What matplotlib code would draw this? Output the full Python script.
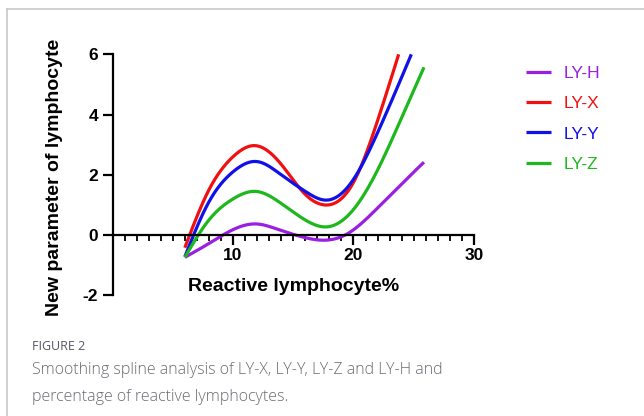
import numpy as np
import matplotlib
matplotlib.use("Agg")
import matplotlib.pyplot as plt
from matplotlib.lines import Line2D

# knots (x = reactive lymphocyte %, y = new parameter)
series_names = ["LY-H", "LY-X", "LY-Y", "LY-Z"]
series_colors = ["#9a1fe0", "#f01010", "#1010e8", "#1cb81c"]

h_x = [6, 8, 10, 11.9, 14, 15.2, 17.6, 19.3, 22, 24, 25.85]
h_y = [-0.74, -0.28, 0.18, 0.37, 0.15, 0.0, -0.17, 0.0, 0.9, 1.7, 2.42]

x_x = [6, 8, 10, 11.8, 14, 16, 17.6, 20, 22, 23.75]
x_y = [-0.42, 1.5, 2.6, 2.97, 2.35, 1.35, 1.0, 1.75, 3.8, 6.0]

y_x = [6, 8, 10, 12, 14, 16, 17.7, 20, 22, 24.8]
y_y = [-0.72, 1.1, 2.1, 2.44, 2.0, 1.45, 1.16, 1.85, 3.4, 6.0]

z_x = [6, 8, 10, 11.9, 14, 16, 17.7, 20, 22, 24, 25.85]
z_y = [-0.74, 0.5, 1.2, 1.45, 1.05, 0.5, 0.27, 0.85, 2.16, 3.9, 5.57]

knots_x = [h_x, x_x, y_x, z_x]
knots_y = [h_y, x_y, y_y, z_y]

caption_head = "FIGURE 2"
caption_body = ("Smoothing spline analysis of LY-X, LY-Y, LY-Z and LY-H and\n"
                "percentage of reactive lymphocytes.")


def natural_spline(xk, yk, xs):
    xk = np.asarray(xk, float)
    yk = np.asarray(yk, float)
    n = len(xk)
    h = np.diff(xk)
    A = np.zeros((n, n))
    b = np.zeros(n)
    A[0, 0] = A[-1, -1] = 1
    for i in range(1, n - 1):
        A[i, i - 1] = h[i - 1]
        A[i, i] = 2 * (h[i - 1] + h[i])
        A[i, i + 1] = h[i]
        b[i] = 3 * ((yk[i + 1] - yk[i]) / h[i] - (yk[i] - yk[i - 1]) / h[i - 1])
    c = np.linalg.solve(A, b)
    bb = np.diff(yk) / h - h * (2 * c[:-1] + c[1:]) / 3
    d = np.diff(c) / (3 * h)
    idx = np.clip(np.searchsorted(xk, xs) - 1, 0, n - 2)
    t = xs - xk[idx]
    return yk[idx] + bb[idx] * t + c[idx] * t ** 2 + d[idx] * t ** 3


plt.rcParams['font.family'] = ['Liberation Sans', 'DejaVu Sans']
plt.rcParams['axes.unicode_minus'] = False

fig = plt.figure(figsize=(6.44, 4.16), dpi=100)
ax = fig.add_axes([0.1747, 0.2901, 0.5613, 0.5793])

for xs, ys, name, col in zip(knots_x, knots_y, series_names, series_colors):
    xx = np.linspace(xs[0], xs[-1], 300)
    ax.plot(xx, natural_spline(xs, ys, xx), color=col, lw=2.3, label=name,
            solid_capstyle='butt', clip_on=False)

ax.set_xlim(0, 30)
ax.set_ylim(-2, 6)
ax.spines['top'].set_visible(False)
ax.spines['right'].set_visible(False)
ax.spines['bottom'].set_position(('data', 0))
ax.spines['left'].set_linewidth(1.6)
ax.spines['bottom'].set_linewidth(1.6)
ax.set_xticks([10, 20, 30])
ax.set_xticks(np.arange(0, 31, 1), minor=True)
ax.set_yticks([-2, 0, 2, 4, 6])
ax.tick_params(axis='both', which='major', width=1.6, length=7, labelsize=12.5)
ax.tick_params(axis='x', which='major', pad=2)
ax.tick_params(axis='x', which='minor', width=1.3, length=4)
ax.tick_params(axis='y', which='minor', left=False)
for lab in ax.get_xticklabels() + ax.get_yticklabels():
    lab.set_fontweight('bold')

ax.set_xlabel("Reactive lymphocyte%", fontsize=14, fontweight='bold')
ax.xaxis.set_label_coords(0.5, 0.036)
ax.xaxis.label.set_va('center')
ax.set_ylabel("New parameter of lymphocyte", fontsize=14, fontweight='bold')
ax.yaxis.set_label_coords(-0.16, 0.49)
ax.yaxis.label.set_va('center')

leg = ax.legend(loc='upper left', bbox_to_anchor=(1.1, 1.017), frameon=False,
                prop={'family': 'Liberation Sans', 'size': 12.5},
                handlelength=1.45, handletextpad=0.75, labelspacing=0.87)
for txt, col in zip(leg.get_texts(), series_colors):
    txt.set_color(col)
for hl in leg.get_lines():
    hl.set_linewidth(2.3)

# page frame and caption
fig.add_artist(Line2D([7 / 644, 7 / 644], [0, 1 - 9 / 416], color='#c8c8cc', lw=1.2))
fig.add_artist(Line2D([7 / 644, 1], [1 - 9 / 416, 1 - 9 / 416], color='#c8c8cc', lw=1.2))
fig.text(32 / 644, 1 - 347 / 416, caption_head, fontsize=9, color='#555564',
         family='Open Sans', fontweight='medium', va='center')
fig.text(32 / 644, 1 - 383.5 / 416, caption_body, fontsize=11.5, color='#6a6a72',
         family='Open Sans', fontweight='light', va='center', linespacing=1.92)

fig.savefig("out.png", dpi=100)
